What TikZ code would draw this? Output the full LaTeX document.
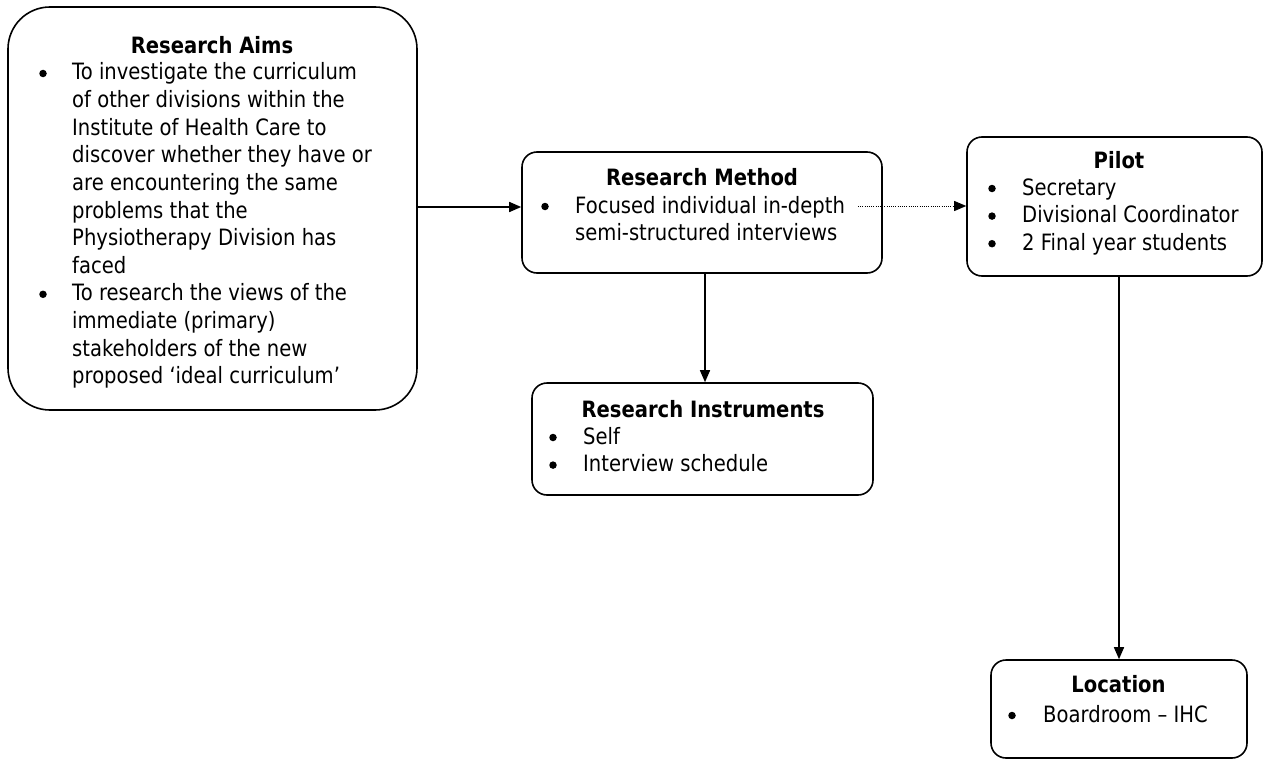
\documentclass[tikz,border=0pt]{standalone}
\usepackage{fontspec}
\setmainfont{DejaVu Sans}[FakeStretch=0.87]
\usetikzlibrary{arrows.meta}

\begin{document}
\begin{tikzpicture}[x=1pt,y=-1pt,
  box/.style={draw, line width=1.6pt, rounded corners=15pt, inner sep=0pt},
  txt/.style={font=\fontsize{22.5}{27.6}\selectfont, inner sep=0pt, anchor=base west},
  ttl/.style={font=\fontsize{22.5}{27.6}\selectfont\bfseries, inner sep=0pt, anchor=base},
  bul/.style={circle, fill, inner sep=0pt, minimum size=7.5pt},
  arr/.style={line width=1.5pt, -{Triangle[length=12pt,width=10pt]}},
  dotarr/.style={line width=0.9pt, dash pattern=on 1pt off 1.2pt, -{Triangle[length=12pt,width=10pt]}}]

\useasboundingbox (0,0) rectangle (1263,760);

% boxes
\node[box, rounded corners=42pt, minimum width=409pt, minimum height=403pt] (aims) at (212.5,208.5) {};
\node[box, minimum width=360pt, minimum height=121pt] (method) at (702,212.5) {};
\node[box, minimum width=295pt, minimum height=139pt] (pilot) at (1114.5,206.5) {};
\node[box, minimum width=341pt, minimum height=112pt] (instr) at (702.5,439) {};
\node[box, minimum width=256pt, minimum height=98pt] (loc) at (1119,709) {};

% Research Aims
\node[ttl] (aimsT) at (212,53) {Research Aims};
\foreach \t [count=\i from 0] in {
  To investigate the curriculum,
  of other divisions within the,
  Institute of Health Care to,
  discover whether they have or,
  are encountering the same,
  problems that the,
  Physiotherapy Division has,
  faced,
  To research the views of the,
  immediate (primary),
  stakeholders of the new,
  proposed ‘ideal curriculum’}
  \node[txt] (aimsL\i) at (72,80+27.6*\i) {\t};
\node[bul] (aimsB1) at (43,73.5) {};
\node[bul] (aimsB2) at (43,73.5+27.6*8) {};

% Research Method
\node[ttl] (methT) at (702,185) {Research Method};
\node[txt] (methL0) at (575,213) {Focused individual in-depth};
\node[txt] (methL1) at (575,240) {semi-structured interviews};
\node[bul] (methB) at (545,206.5) {};

% Pilot
\node[ttl] (pilT) at (1119,168) {Pilot};
\foreach \t [count=\i from 0] in {Secretary, Divisional Coordinator, 2 Final year students}{
  \node[txt] (pilL\i) at (1022,195+27.6*\i) {\t};
  \node[bul] (pilB\i) at (992,188.5+27.6*\i) {};
}

% Research Instruments
\node[ttl] (insT) at (703,417) {Research Instruments};
\foreach \t [count=\i from 0] in {Self, Interview schedule}{
  \node[txt] (insL\i) at (583,444+27.6*\i) {\t};
  \node[bul] (insB\i) at (553,437.5+27.6*\i) {};
}

% Location
\node[ttl] (locT) at (1118.5,692) {Location};
\node[txt] (locL0) at (1043,722) {Boardroom – IHC};
\node[bul] (locB) at (1012,715.5) {};

% connectors
\draw[arr] ([yshift=5.5pt]method.west -| aims.east) -- ([yshift=5.5pt]method.west);
\coordinate (dotstart) at (858,206);
\draw[dotarr] (dotstart) -- (dotstart -| pilot.west);
\draw[arr] ([xshift=3pt]method.south) -- ([xshift=3pt]method.south |- instr.north);
\draw[arr] (pilot.south -| loc.north) -- (loc.north);
\end{tikzpicture}
\end{document}
